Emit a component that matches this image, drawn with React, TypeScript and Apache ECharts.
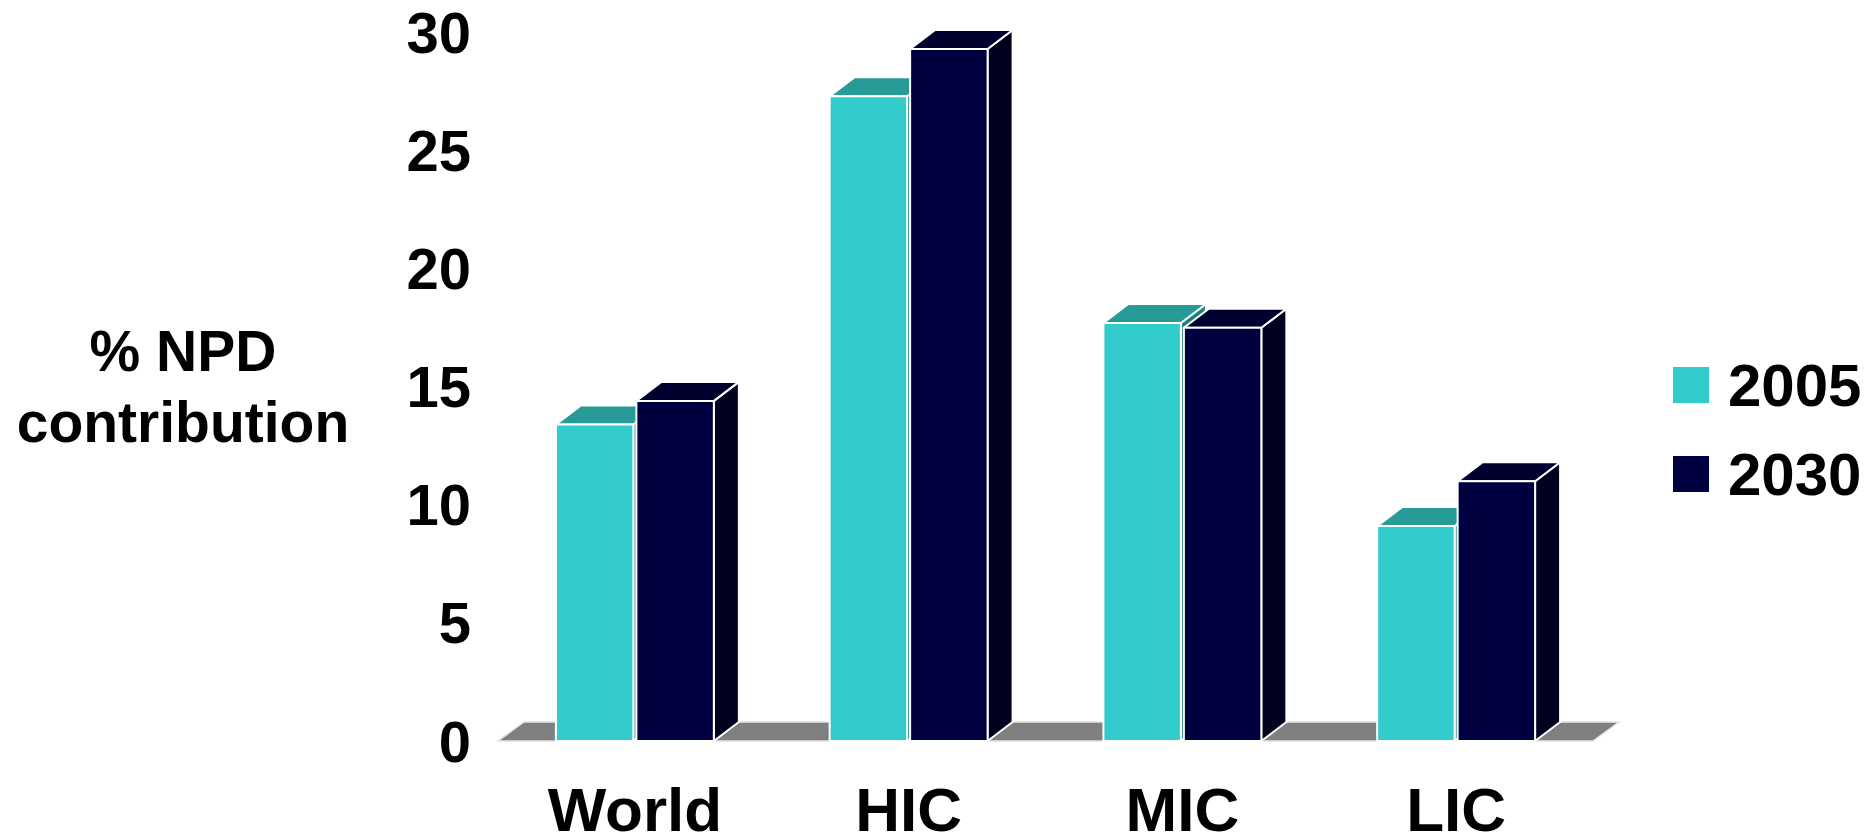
import React, { useEffect, useRef } from "react";
import * as echarts from "echarts";

const categories = ["World", "HIC", "MIC", "LIC"];
const seriesNames = ["2005", "2030"];
const values2005 = [13.4, 27.3, 17.7, 9.1];
const values2030 = [14.4, 29.3, 17.5, 11.0];
const yMin = 0;
const yMax = 30;
const yInterval = 5;
const yTitle = "% NPD\ncontribution";

const FONT = "'Liberation Sans', Arial, Helvetica, sans-serif";
const DX = 25;
const DY = 19;

const palette = [
  { front: "#33CCCC", top: "#269B98", side: "#1E7F7D" },
  { front: "#000040", top: "#000030", side: "#00001F" },
];

function makeBarRenderer(sideSign: number, colors: { front: string; top: string; side: string }) {
  return (params: any, api: any) => {
    const idx = api.value(0);
    const v = api.value(1);
    const top = api.coord([idx, v]);
    const base = api.coord([idx, 0]);
    const band = api.size([1, 0])[0];
    const bw = band * 0.283;
    const gap = 1.5;
    const x0 = sideSign < 0 ? top[0] - gap - bw : top[0] + gap;
    const x1 = x0 + bw;
    const yT = top[1];
    const yB = base[1];
    const stroke = { stroke: "#ffffff", lineWidth: 2 };
    return {
      type: "group",
      children: [
        {
          type: "polygon",
          shape: { points: [[x1, yB], [x1 + DX, yB - DY], [x1 + DX, yT - DY], [x1, yT]] },
          style: { fill: colors.side, ...stroke },
        },
        {
          type: "polygon",
          shape: { points: [[x0, yT], [x0 + DX, yT - DY], [x1 + DX, yT - DY], [x1, yT]] },
          style: { fill: colors.top, ...stroke },
        },
        {
          type: "rect",
          shape: { x: x0, y: yT, width: bw, height: yB - yT },
          style: { fill: colors.front, ...stroke },
        },
      ],
    };
  };
}

function floorRenderer(params: any, api: any) {
  const cs = params.coordSys;
  const x = cs.x;
  const w = cs.width;
  const yB = cs.y + cs.height;
  const fdx = 26;
  return {
    type: "polygon",
    shape: {
      points: [
        [x, yB],
        [x + w, yB],
        [x + w + fdx, yB - DY],
        [x + fdx, yB - DY],
      ],
    },
    style: { fill: "#808080", stroke: "#e4e4e4", lineWidth: 1.5 },
  };
}

export default function App() {
  const ref = useRef<HTMLDivElement>(null);
  useEffect(() => {
    if (!ref.current) return;
    const chart = echarts.init(ref.current, undefined, { renderer: "svg" });
    const option: any = {
      animation: false,
      backgroundColor: "#ffffff",
      grid: { left: 498, right: 277, top: 32.5, bottom: 95, containLabel: false },
      legend: {
        orient: "vertical",
        left: 1668,
        top: 350,
        itemWidth: 36,
        itemHeight: 36,
        itemGap: 29,
        icon: "rect",
        data: seriesNames,
        textStyle: {
          fontFamily: FONT,
          fontWeight: "bold",
          fontSize: 60,
          lineHeight: 60,
          color: "#000",
          padding: [0, 0, 0, 14],
        },
      },
      xAxis: {
        type: "category",
        data: categories,
        axisLine: { show: false },
        axisTick: { show: false },
        axisLabel: {
          margin: 43,
          fontFamily: FONT,
          fontWeight: "bold",
          fontSize: 62,
          lineHeight: 50,
          color: "#000",
        },
      },
      yAxis: {
        type: "value",
        min: yMin,
        max: yMax,
        interval: yInterval,
        axisLine: { show: false },
        axisTick: { show: false },
        splitLine: { show: false },
        axisLabel: {
          margin: 27,
          fontFamily: FONT,
          fontWeight: "bold",
          fontSize: 58,
          color: "#000",
          padding: [6, 0, 0, 0],
        },
        name: yTitle,
        nameLocation: "middle",
        nameRotate: 0,
        nameGap: 315,
        nameTextStyle: {
          fontFamily: FONT,
          fontWeight: "bold",
          fontSize: 57,
          lineHeight: 71,
          color: "#000",
          align: "center",
          verticalAlign: "middle",
          padding: [10, 0, 0, 0],
        },
      },
      series: [
        {
          type: "custom",
          name: "floor",
          renderItem: floorRenderer,
          data: [[0, 0]],
          encode: { x: 0, y: 1 },
          silent: true,
          z: 1,
        },
        {
          type: "custom",
          name: seriesNames[0],
          renderItem: makeBarRenderer(-1, palette[0]),
          itemStyle: { color: palette[0].front },
          data: values2005.map((v, i) => [i, v]),
          encode: { x: 0, y: 1 },
          z: 2,
        },
        {
          type: "custom",
          name: seriesNames[1],
          renderItem: makeBarRenderer(1, palette[1]),
          itemStyle: { color: palette[1].front },
          data: values2030.map((v, i) => [i, v]),
          encode: { x: 0, y: 1 },
          z: 3,
        },
      ],
    };
    chart.setOption(option);
    return () => chart.dispose();
  }, []);
  return (
    <div
      ref={ref}
      style={{ position: "absolute", left: 0, top: 0, width: 1870, height: 840 }}
    />
  );
}
